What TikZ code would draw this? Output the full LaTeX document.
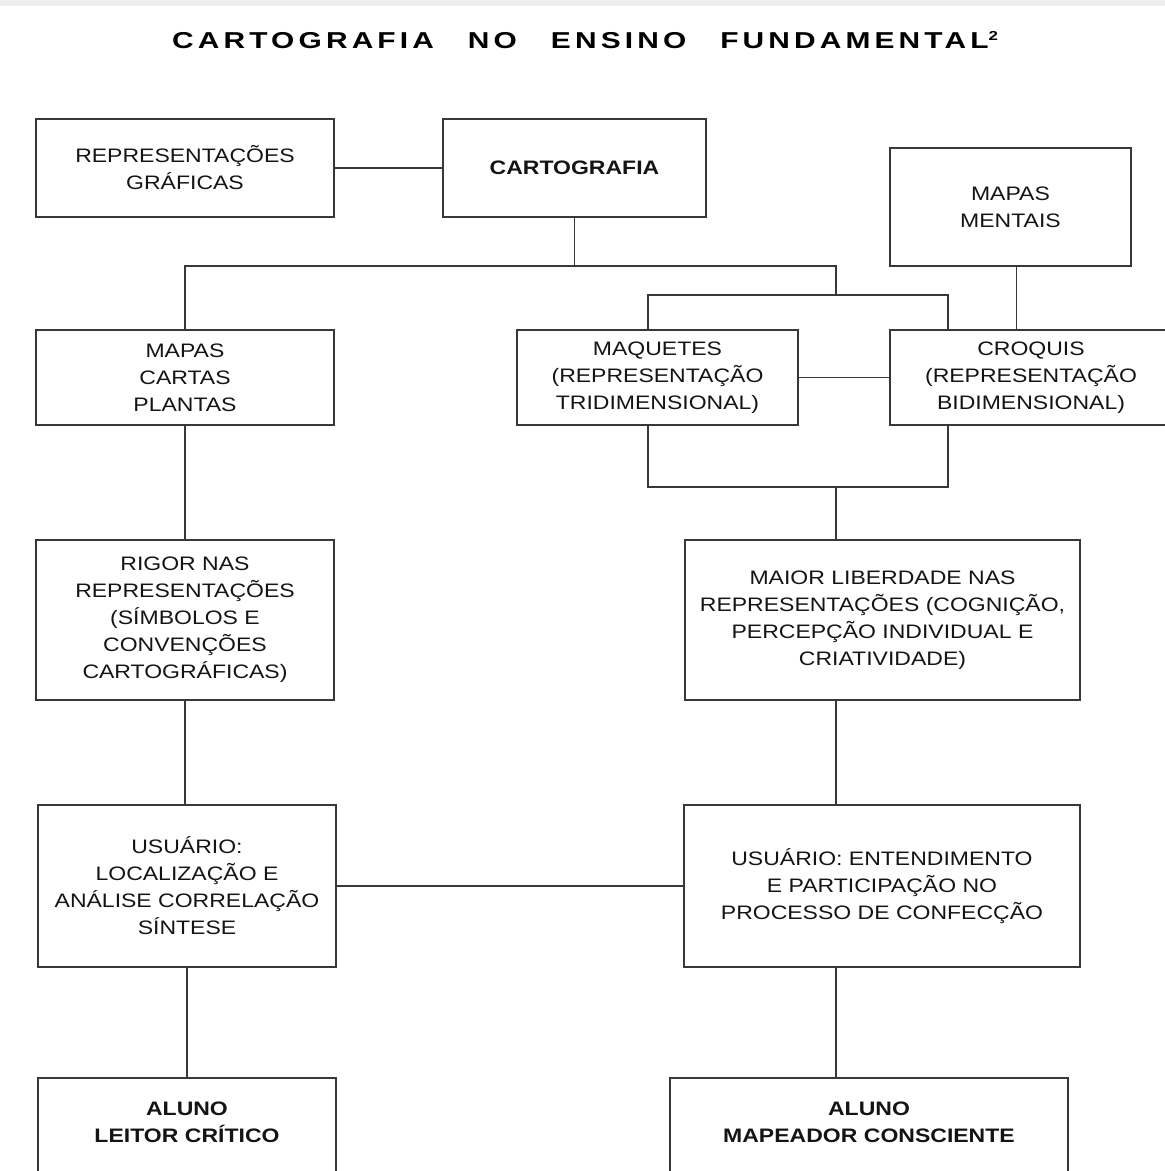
\documentclass[tikz,border=0pt]{standalone}
\usepackage{fontspec}
\setmainfont[FakeStretch=1.18]{Liberation Sans}
\newfontfamily\titlefont[FakeStretch=1.30, LetterSpace=18]{Liberation Sans}
\usepackage{tikz}
\usetikzlibrary{positioning}
\definecolor{lineC}{gray}{0.22}
\tikzset{
  boxN/.style={ draw=lineC, line width=1.7pt, align=center, inner sep=0pt, text=black!92, font=\fontsize{19.5}{27}\selectfont }
}
\tikzset{
  boxB/.style={ boxN, font=\fontsize{19.5}{27}\selectfont\bfseries }
}
\tikzset{
  link/.style={ draw=lineC, line width=1.7pt }
}

\begin{document}
\begin{tikzpicture}[x=1pt, y=-1pt]
  \useasboundingbox (0,0) rectangle (1165,1171);
  \fill[black!7] (0,0) rectangle (1165,6);
  \node[anchor=base west, inner sep=0pt, text=black, font=\titlefont\fontsize{23}{26}\selectfont\bfseries] (title) at (172,48) {CARTOGRAFIA\hspace{34pt}NO\hspace{34pt}ENSINO\hspace{34pt}FUNDAMENTAL\raisebox{8pt}{\fontsize{13}{13}\selectfont 2}};
  % upper row
  \node[boxN, minimum width=298pt, minimum height=98pt] (rep) at (185,168) {REPRESENTAÇÕES\\GRÁFICAS};
  \node[boxB, minimum width=263pt, minimum height=98pt] (cart) at (574.5,168) {CARTOGRAFIA};
  \node[boxN, minimum width=241pt, minimum height=118pt] (mentais) at (1010.5,207) {MAPAS\\MENTAIS};
  \node[boxN, minimum width=298pt, minimum height=95pt] (mapas) at (185,377.5) {MAPAS\\CARTAS\\PLANTAS};
  \node[boxN, minimum width=281pt, minimum height=95pt] (maq) at (657.5,377.5) {MAQUETES\\(REPRESENTAÇÃO\\TRIDIMENSIONAL)};
  \node[boxN, minimum width=282pt, minimum height=95pt] (croq) at (1031,377.5) {CROQUIS\\(REPRESENTAÇÃO\\BIDIMENSIONAL)};
  % middle rows
  \node[boxN, minimum width=298pt, minimum height=160pt] (rigor) at (185,620) {RIGOR NAS\\REPRESENTAÇÕES\\(SÍMBOLOS E\\CONVENÇÕES\\CARTOGRÁFICAS)};
  \node[boxN, minimum width=395pt, minimum height=160pt] (maior) at (882.5,620) {MAIOR LIBERDADE NAS\\REPRESENTAÇÕES (COGNIÇÃO,\\PERCEPÇÃO INDIVIDUAL E\\CRIATIVIDADE)};
  \node[boxN, minimum width=298pt, minimum height=162pt] (usuL) at (187,886) {USUÁRIO:\\LOCALIZAÇÃO E\\ANÁLISE CORRELAÇÃO\\SÍNTESE};
  \node[boxN, minimum width=396pt, minimum height=162pt] (usuR) at (882,886) {USUÁRIO: ENTENDIMENTO\\E PARTICIPAÇÃO NO\\PROCESSO DE CONFECÇÃO};
  % bottom row
  \node[boxB, anchor=north, text width=298pt, text height=14pt, text depth=90pt, inner ysep=24pt] (alunoL) at (187,1077) {ALUNO\\LEITOR CRÍTICO};
  \node[boxB, anchor=north, text width=398pt, text height=14pt, text depth=90pt, inner ysep=24pt] (alunoR) at (869,1077) {ALUNO\\MAPEADOR CONSCIENTE};
  % connectors
  \coordinate (j1) at (836,266);
  \coordinate (j2) at (836,295);
  \coordinate (j3) at (836,487);
  \coordinate (m) at ([xshift=6pt]mentais.south);
  \draw[link] (rep) -- (cart);
  \draw[link] (cart.south) -- (cart.south |- j1);
  \draw[link] (mapas.north) |- (j1) -- (j2);
  \draw[link] ([xshift=-9.5pt]maq.north) |- (j2) -| ([xshift=-83pt]croq.north);
  \draw[link] (m) -- (m |- croq.north);
  \draw[link] (maq) -- (croq);
  \draw[link] ([xshift=-9.5pt]maq.south) |- (j3) -| ([xshift=-83pt]croq.south);
  \draw[link] (j3) -- (j3 |- maior.north);
  \draw[link] (mapas) -- (rigor);
  \draw[link] (rigor.south) -- (rigor.south |- usuL.north);
  \draw[link] (usuL) -- (usuR);
  \draw[link] (maior.south -| j3) -- (usuR.north -| j3);
  \draw[link] (usuL.south) -- (alunoL.north);
  \draw[link] (usuR.south -| j3) -- (alunoR.north -| j3);
\end{tikzpicture}
\end{document}
